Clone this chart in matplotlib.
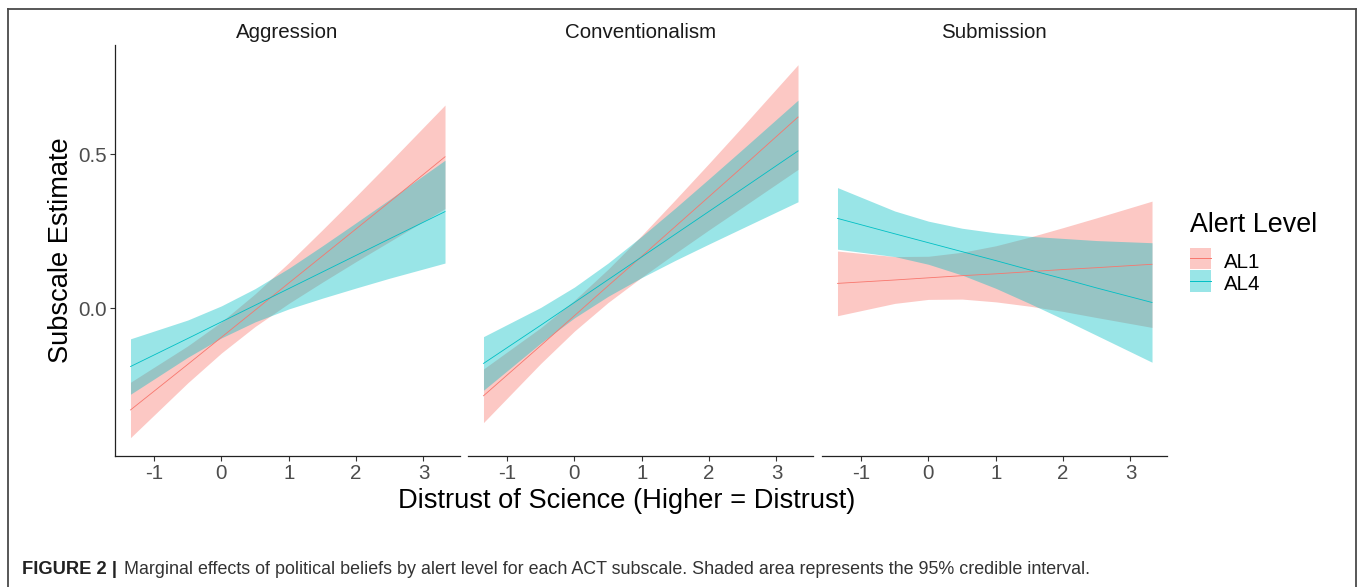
import matplotlib.pyplot as plt
from matplotlib.patches import Rectangle
from matplotlib.lines import Line2D

# values (x = distrust of science)
x_vals = [-1.35, -0.5, 0.0, 0.5, 1.0, 1.5, 2.0, 2.5, 3.32]

subscales = ["Aggression", "Conventionalism", "Submission"]
levels = ["AL1", "AL4"]

agg_al1_est = [-0.331, -0.183, -0.095, -0.007, 0.081, 0.169, 0.257, 0.345, 0.491]
agg_al1_lo = [-0.421, -0.243, -0.146, -0.060, 0.015, 0.084, 0.151, 0.216, 0.323]
agg_al1_hi = [-0.241, -0.123, -0.045, 0.046, 0.147, 0.254, 0.363, 0.474, 0.659]
agg_al4_est = [-0.190, -0.099, -0.045, 0.009, 0.063, 0.117, 0.171, 0.225, 0.313]
agg_al4_lo = [-0.280, -0.160, -0.097, -0.045, -0.003, 0.032, 0.065, 0.097, 0.146]
agg_al4_hi = [-0.100, -0.039, 0.007, 0.063, 0.129, 0.202, 0.277, 0.353, 0.480]

con_al1_est = [-0.285, -0.122, -0.025, 0.072, 0.168, 0.265, 0.362, 0.459, 0.620]
con_al1_lo = [-0.372, -0.180, -0.075, 0.018, 0.100, 0.178, 0.254, 0.328, 0.450]
con_al1_hi = [-0.198, -0.064, 0.025, 0.126, 0.236, 0.352, 0.470, 0.590, 0.790]
con_al4_est = [-0.180, -0.056, 0.018, 0.092, 0.166, 0.240, 0.314, 0.388, 0.510]
con_al4_lo = [-0.267, -0.114, -0.032, 0.038, 0.099, 0.155, 0.208, 0.260, 0.345]
con_al4_hi = [-0.093, 0.002, 0.068, 0.146, 0.233, 0.325, 0.420, 0.516, 0.675]

sub_al1_est = [0.080, 0.091, 0.098, 0.105, 0.111, 0.118, 0.125, 0.131, 0.142]
sub_al1_lo = [-0.025, 0.015, 0.028, 0.029, 0.020, 0.006, -0.011, -0.031, -0.063]
sub_al1_hi = [0.185, 0.167, 0.168, 0.181, 0.202, 0.230, 0.261, 0.293, 0.347]
sub_al4_est = [0.291, 0.241, 0.212, 0.183, 0.154, 0.124, 0.095, 0.065, 0.018]
sub_al4_lo = [0.191, 0.167, 0.142, 0.107, 0.064, 0.015, -0.036, -0.089, -0.176]
sub_al4_hi = [0.391, 0.315, 0.282, 0.259, 0.244, 0.233, 0.226, 0.219, 0.212]

x_ticks = [-1, 0, 1, 2, 3]
y_ticks = [0.0, 0.5]
y_tick_labels = ["0.0", "0.5"]

RED = "#F8766D"
TEAL = "#00BFC4"
colors = [RED, TEAL]

plt.rcParams["font.family"] = ["Liberation Sans", "DejaVu Sans"]

W, H = 1358, 587
fig = plt.figure(figsize=(W / 100, H / 100), dpi=100)


def box(left, top, right, bottom):
    return [left / W, 1 - bottom / H, (right - left) / W, (bottom - top) / H]


panels = [
    (agg_al1_est, agg_al1_lo, agg_al1_hi, agg_al4_est, agg_al4_lo, agg_al4_hi),
    (con_al1_est, con_al1_lo, con_al1_hi, con_al4_est, con_al4_lo, con_al4_hi),
    (sub_al1_est, sub_al1_lo, sub_al1_hi, sub_al4_est, sub_al4_lo, sub_al4_hi),
]
panel_left = [115, 468, 822]
panel_w = 344.5

for i, name in enumerate(subscales):
    ax = fig.add_axes(box(panel_left[i], 45, panel_left[i] + panel_w, 456))
    e1, lo1, hi1, e4, lo4, hi4 = panels[i]
    ax.fill_between(x_vals, lo1, hi1, color=RED, alpha=0.4, lw=0, zorder=1)
    ax.fill_between(x_vals, lo4, hi4, color=TEAL, alpha=0.4, lw=0, zorder=1)
    ax.plot(x_vals, e1, color=RED, lw=0.6, zorder=2)
    ax.plot(x_vals, e4, color=TEAL, lw=0.6, zorder=2)

    ax.set_xlim(-1.58, 3.535)
    ax.set_ylim(-0.4805, 0.854)
    ax.set_xticks(x_ticks)
    ax.set_xticklabels([str(t) for t in x_ticks])
    for s in ["top", "right"]:
        ax.spines[s].set_visible(False)
    ax.spines["bottom"].set_color("#222222")
    ax.spines["bottom"].set_linewidth(0.9)
    ax.tick_params(axis="x", length=3.5, width=0.8, color="#333333",
                   labelsize=14.8, labelcolor="#4D4D4D", pad=2)
    if i == 0:
        ax.set_yticks(y_ticks)
        ax.set_yticklabels(y_tick_labels)
        ax.spines["left"].set_color("#222222")
        ax.spines["left"].set_linewidth(0.9)
        ax.tick_params(axis="y", length=3.5, width=0.8, color="#333333",
                       labelsize=14.8, labelcolor="#4D4D4D", pad=2)
    else:
        ax.spines["left"].set_visible(False)
        ax.set_yticks([])
    fig.text((panel_left[i] + panel_w / 2) / W, 1 - 37.5 / H, name,
             ha="center", va="baseline", fontsize=14.8, color="#1A1A1A")

fig.text(61 / W, 1 - 250.5 / H, "Subscale Estimate", rotation=90,
         ha="center", va="center", fontsize=19.6, color="black")
fig.text(627 / W, 1 - 508 / H, "Distrust of Science (Higher = Distrust)",
         ha="center", va="baseline", fontsize=19.6, color="black")

# legend
fig.text(1190 / W, 1 - 232 / H, "Alert Level", ha="left", va="baseline",
         fontsize=19.4, color="black")
key_tops = [247.5, 270.5]
for j, lab in enumerate(levels):
    x0, y0 = 1189.5 / W, 1 - (key_tops[j] + 21.5) / H
    fig.add_artist(Rectangle((x0, y0), 21.5 / W, 21.5 / H, transform=fig.transFigure,
                             facecolor=colors[j], alpha=0.4, lw=0))
    ym = 1 - (key_tops[j] + 10.75) / H
    fig.add_artist(Line2D([x0, x0 + 21.5 / W], [ym, ym], transform=fig.transFigure,
                          color=colors[j], lw=0.7))
    fig.text(1224 / W, 1 - (key_tops[j] + 20) / H, lab, ha="left", va="baseline",
             fontsize=14.8, color="black")

# frame around the figure
fcol = "#4a4a4a"
fig.add_artist(Line2D([7.5 / W, 7.5 / W], [0, 1 - 9 / H], transform=fig.transFigure, color=fcol, lw=1.3))
fig.add_artist(Line2D([7.5 / W, 1355.5 / W], [1 - 9 / H, 1 - 9 / H], transform=fig.transFigure, color=fcol, lw=1.3))
fig.add_artist(Line2D([1355.5 / W, 1355.5 / W], [0, 1 - 9 / H], transform=fig.transFigure, color=fcol, lw=1.3))

# caption
fig.text(22.5 / W, 1 - 574.5 / H, "FIGURE 2 |", ha="left", va="baseline",
         fontsize=13.2, fontweight="bold", color="#222222")
fig.text(124 / W, 1 - 574.5 / H,
         "Marginal effects of political beliefs by alert level for each ACT subscale. "
         "Shaded area represents the 95% credible interval.",
         ha="left", va="baseline", fontsize=12.9, color="#333333")

fig.savefig("out.png", dpi=100)
